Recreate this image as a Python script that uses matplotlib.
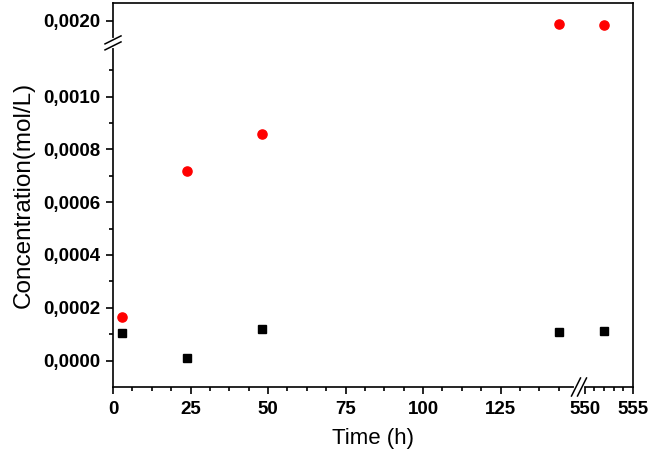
import numpy as np
import matplotlib
matplotlib.use("Agg")
import matplotlib.pyplot as plt
from matplotlib.ticker import FixedLocator, FuncFormatter

plt.rcParams['font.family'] = ['Liberation Sans', 'DejaVu Sans']

# data
time_h = [3, 24, 48, 144, 552]
conc_red = [0.000167, 0.00072, 0.00086, 0.00199, 0.001984]
conc_black = [0.000106, 0.0000114, 0.000121, 0.00011, 0.000114]

x_major = [0, 25, 50, 75, 100, 125, 550, 555]
x_minor = [6.25, 12.5, 18.75, 31.25, 37.5, 43.75, 56.25, 62.5, 68.75,
           81.25, 87.5, 93.75, 106.25, 112.5, 118.75, 131.25, 137.5, 143.75,
           551, 552, 553, 554]
y_major = [0.0, 0.0002, 0.0004, 0.0006, 0.0008, 0.0010, 0.0020]
y_minor = [0.0001, 0.0003, 0.0005, 0.0007, 0.0009, 0.0011]

# broken axes: data knots -> display knots (piecewise linear)
X_DATA = [-1000, 0, 150, 549.5, 555, 2000]
X_DISP = [-3100, 0, 465, 467, 520, 520 + 1445 * 9.636]
Y_DATA = [-1.0, -0.0001, 0.0012, 0.00192, 0.002068, 1.0]
Y_DISP = [-264000 * 0.9999, 0, 343.2, 345, 384, 384 + 264000 * 0.998]


def fwd_x(v):
    return np.interp(v, X_DATA, X_DISP)


def inv_x(v):
    return np.interp(v, X_DISP, X_DATA)


def fwd_y(v):
    return np.interp(v, Y_DATA, Y_DISP)


def inv_y(v):
    return np.interp(v, Y_DISP, Y_DATA)


fig = plt.figure(figsize=(6.49, 4.54), dpi=100)
ax = fig.add_axes([113 / 649, 1 - 387 / 454, 520 / 649, 384 / 454])

ax.set_xscale('function', functions=(fwd_x, inv_x))
ax.set_yscale('function', functions=(fwd_y, inv_y))

ax.plot(time_h, conc_black, 's', color='black', ms=5.6, ls='none', zorder=3)
ax.plot(time_h, conc_red, 'o', color='#ff0000', ms=6.6, ls='none', zorder=3)

ax.set_xlim(0, 555)
ax.set_ylim(-0.0001, 0.002068)

ax.xaxis.set_major_locator(FixedLocator(x_major))
ax.xaxis.set_minor_locator(FixedLocator(x_minor))
ax.yaxis.set_major_locator(FixedLocator(y_major))
ax.yaxis.set_minor_locator(FixedLocator(y_minor))
ax.xaxis.set_major_formatter(FuncFormatter(lambda v, p: "%d" % round(v)))
ax.yaxis.set_major_formatter(FuncFormatter(lambda v, p: ("%.4f" % v).replace('.', ',')))

for s in ax.spines.values():
    s.set_linewidth(1.2)
ax.tick_params(which='major', direction='out', length=5, width=1.2,
               labelsize=13.5)
ax.tick_params(axis='x', which='major', pad=5)
ax.tick_params(axis='y', which='major', pad=4)
ax.tick_params(which='minor', direction='out', length=3, width=1.2)
ax.tick_params(top=False, right=False, which='both')
for lab in ax.get_xticklabels() + ax.get_yticklabels():
    lab.set_fontweight('bold')

ax.set_xlabel("Time (h)", fontsize=16, labelpad=7)
ax.set_ylabel("Concentration(mol/L)", fontsize=17.5, labelpad=6)

# break marks
fig.canvas.draw()
to_ax = ax.transAxes.inverted()
bx = to_ax.transform(ax.transData.transform((0.5 * (150 + 549.5), 0)))[0]
by = to_ax.transform(ax.transData.transform((0, 0.5 * (0.0012 + 0.00192))))[1]
w_px, h_px = 520.0, 384.0
sep_x = 3 / w_px
sep_y = 3 / h_px

# x break
dx, dy = 4.5 / w_px, 9 / h_px
ax.plot([bx - sep_x, bx + sep_x], [0, 0], color='white', lw=3,
        transform=ax.transAxes, clip_on=False, zorder=5)
for off in (-sep_x, sep_x):
    ax.plot([bx + off - dx, bx + off + dx], [-dy, dy], color='black', lw=1.1,
            transform=ax.transAxes, clip_on=False, zorder=6)

# y break
ax.plot([0, 0], [by - sep_y, by + sep_y], color='white', lw=3,
        transform=ax.transAxes, clip_on=False, zorder=5)
ddx, ddy = 8 / w_px, 4 / h_px
for off in (-sep_y, sep_y):
    ax.plot([-ddx, ddx], [by + off - ddy, by + off + ddy], color='black', lw=1.1,
            transform=ax.transAxes, clip_on=False, zorder=6)

fig.savefig("out.png", dpi=100)
